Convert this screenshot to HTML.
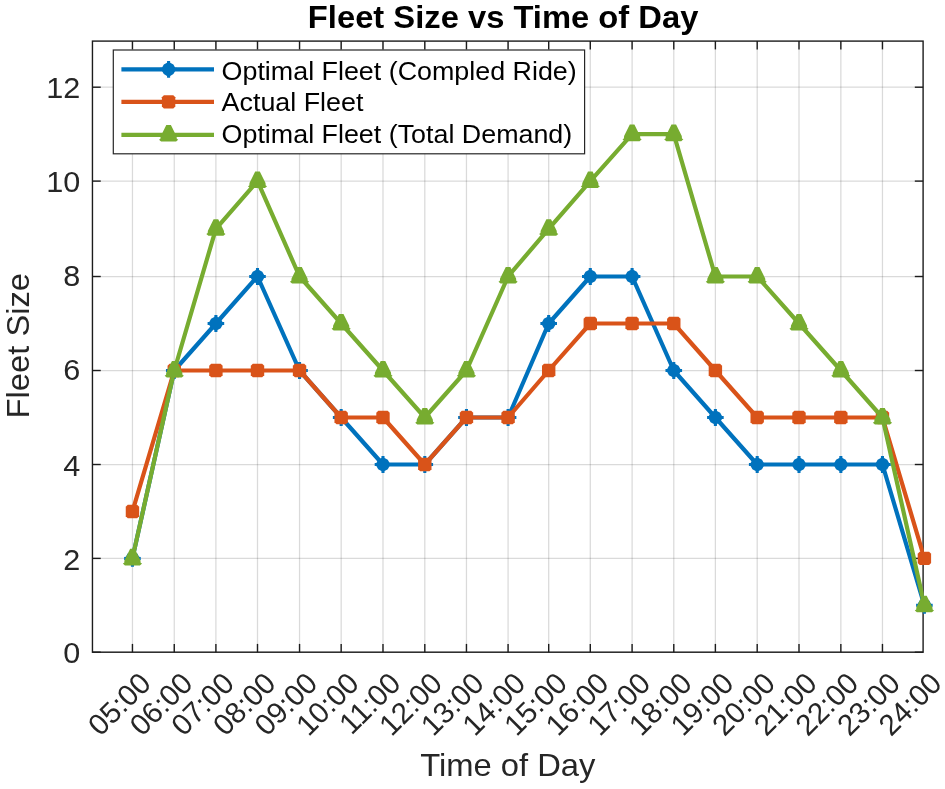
<!DOCTYPE html>
<html><head><meta charset="utf-8"><title>Fleet Size vs Time of Day</title>
<style>html,body{margin:0;padding:0;background:#fff}svg{display:block;will-change:transform}text{font-family:"Liberation Sans",sans-serif;fill:#262626}</style></head><body>
<svg width="945" height="789" viewBox="0 0 945 789">
<rect width="945" height="789" fill="#fff"/>
<defs><clipPath id="ax"><rect x="92.45" y="41.10" width="831.35" height="611.10"/></clipPath></defs>
<g stroke="#262626" stroke-opacity="0.17" stroke-width="1.25">
<line x1="132.45" y1="41.10" x2="132.45" y2="652.20"/>
<line x1="174.26" y1="41.10" x2="174.26" y2="652.20"/>
<line x1="215.90" y1="41.10" x2="215.90" y2="652.20"/>
<line x1="257.50" y1="41.10" x2="257.50" y2="652.20"/>
<line x1="299.55" y1="41.10" x2="299.55" y2="652.20"/>
<line x1="341.17" y1="41.10" x2="341.17" y2="652.20"/>
<line x1="382.99" y1="41.10" x2="382.99" y2="652.20"/>
<line x1="424.80" y1="41.10" x2="424.80" y2="652.20"/>
<line x1="466.46" y1="41.10" x2="466.46" y2="652.20"/>
<line x1="508.08" y1="41.10" x2="508.08" y2="652.20"/>
<line x1="548.69" y1="41.10" x2="548.69" y2="652.20"/>
<line x1="590.30" y1="41.10" x2="590.30" y2="652.20"/>
<line x1="632.10" y1="41.10" x2="632.10" y2="652.20"/>
<line x1="673.78" y1="41.10" x2="673.78" y2="652.20"/>
<line x1="715.39" y1="41.10" x2="715.39" y2="652.20"/>
<line x1="757.20" y1="41.10" x2="757.20" y2="652.20"/>
<line x1="799.00" y1="41.10" x2="799.00" y2="652.20"/>
<line x1="840.85" y1="41.10" x2="840.85" y2="652.20"/>
<line x1="882.46" y1="41.10" x2="882.46" y2="652.20"/>
<line x1="92.45" y1="652.20" x2="923.10" y2="652.20"/>
<line x1="92.45" y1="558.40" x2="923.10" y2="558.40"/>
<line x1="92.45" y1="464.50" x2="923.10" y2="464.50"/>
<line x1="92.45" y1="370.50" x2="923.10" y2="370.50"/>
<line x1="92.45" y1="276.50" x2="923.10" y2="276.50"/>
<line x1="92.45" y1="181.10" x2="923.10" y2="181.10"/>
<line x1="92.45" y1="87.20" x2="923.10" y2="87.20"/>
</g>
<g stroke="#1c1c1c" stroke-width="1.4" fill="none">
<rect x="92.45" y="41.10" width="830.65" height="611.10"/>
<line x1="132.45" y1="652.20" x2="132.45" y2="643.90"/>
<line x1="132.45" y1="41.10" x2="132.45" y2="49.40"/>
<line x1="174.26" y1="652.20" x2="174.26" y2="643.90"/>
<line x1="174.26" y1="41.10" x2="174.26" y2="49.40"/>
<line x1="215.90" y1="652.20" x2="215.90" y2="643.90"/>
<line x1="215.90" y1="41.10" x2="215.90" y2="49.40"/>
<line x1="257.50" y1="652.20" x2="257.50" y2="643.90"/>
<line x1="257.50" y1="41.10" x2="257.50" y2="49.40"/>
<line x1="299.55" y1="652.20" x2="299.55" y2="643.90"/>
<line x1="299.55" y1="41.10" x2="299.55" y2="49.40"/>
<line x1="341.17" y1="652.20" x2="341.17" y2="643.90"/>
<line x1="341.17" y1="41.10" x2="341.17" y2="49.40"/>
<line x1="382.99" y1="652.20" x2="382.99" y2="643.90"/>
<line x1="382.99" y1="41.10" x2="382.99" y2="49.40"/>
<line x1="424.80" y1="652.20" x2="424.80" y2="643.90"/>
<line x1="424.80" y1="41.10" x2="424.80" y2="49.40"/>
<line x1="466.46" y1="652.20" x2="466.46" y2="643.90"/>
<line x1="466.46" y1="41.10" x2="466.46" y2="49.40"/>
<line x1="508.08" y1="652.20" x2="508.08" y2="643.90"/>
<line x1="508.08" y1="41.10" x2="508.08" y2="49.40"/>
<line x1="548.69" y1="652.20" x2="548.69" y2="643.90"/>
<line x1="548.69" y1="41.10" x2="548.69" y2="49.40"/>
<line x1="590.30" y1="652.20" x2="590.30" y2="643.90"/>
<line x1="590.30" y1="41.10" x2="590.30" y2="49.40"/>
<line x1="632.10" y1="652.20" x2="632.10" y2="643.90"/>
<line x1="632.10" y1="41.10" x2="632.10" y2="49.40"/>
<line x1="673.78" y1="652.20" x2="673.78" y2="643.90"/>
<line x1="673.78" y1="41.10" x2="673.78" y2="49.40"/>
<line x1="715.39" y1="652.20" x2="715.39" y2="643.90"/>
<line x1="715.39" y1="41.10" x2="715.39" y2="49.40"/>
<line x1="757.20" y1="652.20" x2="757.20" y2="643.90"/>
<line x1="757.20" y1="41.10" x2="757.20" y2="49.40"/>
<line x1="799.00" y1="652.20" x2="799.00" y2="643.90"/>
<line x1="799.00" y1="41.10" x2="799.00" y2="49.40"/>
<line x1="840.85" y1="652.20" x2="840.85" y2="643.90"/>
<line x1="840.85" y1="41.10" x2="840.85" y2="49.40"/>
<line x1="882.46" y1="652.20" x2="882.46" y2="643.90"/>
<line x1="882.46" y1="41.10" x2="882.46" y2="49.40"/>
<line x1="92.45" y1="652.20" x2="100.75" y2="652.20"/>
<line x1="923.10" y1="652.20" x2="914.80" y2="652.20"/>
<line x1="92.45" y1="558.40" x2="100.75" y2="558.40"/>
<line x1="923.10" y1="558.40" x2="914.80" y2="558.40"/>
<line x1="92.45" y1="464.50" x2="100.75" y2="464.50"/>
<line x1="923.10" y1="464.50" x2="914.80" y2="464.50"/>
<line x1="92.45" y1="370.50" x2="100.75" y2="370.50"/>
<line x1="923.10" y1="370.50" x2="914.80" y2="370.50"/>
<line x1="92.45" y1="276.50" x2="100.75" y2="276.50"/>
<line x1="923.10" y1="276.50" x2="914.80" y2="276.50"/>
<line x1="92.45" y1="181.10" x2="100.75" y2="181.10"/>
<line x1="923.10" y1="181.10" x2="914.80" y2="181.10"/>
<line x1="92.45" y1="87.20" x2="100.75" y2="87.20"/>
<line x1="923.10" y1="87.20" x2="914.80" y2="87.20"/>
</g>
<g id="series">
<polyline points="132.45,558.40 174.26,370.50 215.90,323.50 257.50,276.50 299.55,370.50 341.17,417.50 382.99,464.50 424.80,464.50 466.46,417.50 508.08,417.50 548.69,323.50 590.30,276.50 632.10,276.50 673.78,370.50 715.39,417.50 757.20,464.50 799.00,464.50 840.85,464.50 882.46,464.50 924.40,605.30" fill="none" stroke="#0072BD" stroke-width="4.2" stroke-linejoin="round" clip-path="url(#ax)"/>
<polygon points="130.95,550.00 133.95,550.00 134.05,551.80 137.25,553.60 139.05,556.80 140.75,556.90 140.75,559.90 139.05,560.00 137.25,563.20 134.05,565.00 133.95,566.80 130.95,566.80 130.85,565.00 127.65,563.20 125.85,560.00 124.15,559.90 124.15,556.90 125.85,556.80 127.65,553.60 130.85,551.80" fill="#0072BD"/>
<polygon points="172.76,362.10 175.76,362.10 175.86,363.90 179.06,365.70 180.86,368.90 182.56,369.00 182.56,372.00 180.86,372.10 179.06,375.30 175.86,377.10 175.76,378.90 172.76,378.90 172.66,377.10 169.46,375.30 167.66,372.10 165.96,372.00 165.96,369.00 167.66,368.90 169.46,365.70 172.66,363.90" fill="#0072BD"/>
<polygon points="214.40,315.10 217.40,315.10 217.50,316.90 220.70,318.70 222.50,321.90 224.20,322.00 224.20,325.00 222.50,325.10 220.70,328.30 217.50,330.10 217.40,331.90 214.40,331.90 214.30,330.10 211.10,328.30 209.30,325.10 207.60,325.00 207.60,322.00 209.30,321.90 211.10,318.70 214.30,316.90" fill="#0072BD"/>
<polygon points="256.00,268.10 259.00,268.10 259.10,269.90 262.30,271.70 264.10,274.90 265.80,275.00 265.80,278.00 264.10,278.10 262.30,281.30 259.10,283.10 259.00,284.90 256.00,284.90 255.90,283.10 252.70,281.30 250.90,278.10 249.20,278.00 249.20,275.00 250.90,274.90 252.70,271.70 255.90,269.90" fill="#0072BD"/>
<polygon points="298.05,362.10 301.05,362.10 301.15,363.90 304.35,365.70 306.15,368.90 307.85,369.00 307.85,372.00 306.15,372.10 304.35,375.30 301.15,377.10 301.05,378.90 298.05,378.90 297.95,377.10 294.75,375.30 292.95,372.10 291.25,372.00 291.25,369.00 292.95,368.90 294.75,365.70 297.95,363.90" fill="#0072BD"/>
<polygon points="339.67,409.10 342.67,409.10 342.77,410.90 345.97,412.70 347.77,415.90 349.47,416.00 349.47,419.00 347.77,419.10 345.97,422.30 342.77,424.10 342.67,425.90 339.67,425.90 339.57,424.10 336.37,422.30 334.57,419.10 332.87,419.00 332.87,416.00 334.57,415.90 336.37,412.70 339.57,410.90" fill="#0072BD"/>
<polygon points="381.49,456.10 384.49,456.10 384.59,457.90 387.79,459.70 389.59,462.90 391.29,463.00 391.29,466.00 389.59,466.10 387.79,469.30 384.59,471.10 384.49,472.90 381.49,472.90 381.39,471.10 378.19,469.30 376.39,466.10 374.69,466.00 374.69,463.00 376.39,462.90 378.19,459.70 381.39,457.90" fill="#0072BD"/>
<polygon points="423.30,456.10 426.30,456.10 426.40,457.90 429.60,459.70 431.40,462.90 433.10,463.00 433.10,466.00 431.40,466.10 429.60,469.30 426.40,471.10 426.30,472.90 423.30,472.90 423.20,471.10 420.00,469.30 418.20,466.10 416.50,466.00 416.50,463.00 418.20,462.90 420.00,459.70 423.20,457.90" fill="#0072BD"/>
<polygon points="464.96,409.10 467.96,409.10 468.06,410.90 471.26,412.70 473.06,415.90 474.76,416.00 474.76,419.00 473.06,419.10 471.26,422.30 468.06,424.10 467.96,425.90 464.96,425.90 464.86,424.10 461.66,422.30 459.86,419.10 458.16,419.00 458.16,416.00 459.86,415.90 461.66,412.70 464.86,410.90" fill="#0072BD"/>
<polygon points="506.58,409.10 509.58,409.10 509.68,410.90 512.88,412.70 514.68,415.90 516.38,416.00 516.38,419.00 514.68,419.10 512.88,422.30 509.68,424.10 509.58,425.90 506.58,425.90 506.48,424.10 503.28,422.30 501.48,419.10 499.78,419.00 499.78,416.00 501.48,415.90 503.28,412.70 506.48,410.90" fill="#0072BD"/>
<polygon points="547.19,315.10 550.19,315.10 550.29,316.90 553.49,318.70 555.29,321.90 556.99,322.00 556.99,325.00 555.29,325.10 553.49,328.30 550.29,330.10 550.19,331.90 547.19,331.90 547.09,330.10 543.89,328.30 542.09,325.10 540.39,325.00 540.39,322.00 542.09,321.90 543.89,318.70 547.09,316.90" fill="#0072BD"/>
<polygon points="588.80,268.10 591.80,268.10 591.90,269.90 595.10,271.70 596.90,274.90 598.60,275.00 598.60,278.00 596.90,278.10 595.10,281.30 591.90,283.10 591.80,284.90 588.80,284.90 588.70,283.10 585.50,281.30 583.70,278.10 582.00,278.00 582.00,275.00 583.70,274.90 585.50,271.70 588.70,269.90" fill="#0072BD"/>
<polygon points="630.60,268.10 633.60,268.10 633.70,269.90 636.90,271.70 638.70,274.90 640.40,275.00 640.40,278.00 638.70,278.10 636.90,281.30 633.70,283.10 633.60,284.90 630.60,284.90 630.50,283.10 627.30,281.30 625.50,278.10 623.80,278.00 623.80,275.00 625.50,274.90 627.30,271.70 630.50,269.90" fill="#0072BD"/>
<polygon points="672.28,362.10 675.28,362.10 675.38,363.90 678.58,365.70 680.38,368.90 682.08,369.00 682.08,372.00 680.38,372.10 678.58,375.30 675.38,377.10 675.28,378.90 672.28,378.90 672.18,377.10 668.98,375.30 667.18,372.10 665.48,372.00 665.48,369.00 667.18,368.90 668.98,365.70 672.18,363.90" fill="#0072BD"/>
<polygon points="713.89,409.10 716.89,409.10 716.99,410.90 720.19,412.70 721.99,415.90 723.69,416.00 723.69,419.00 721.99,419.10 720.19,422.30 716.99,424.10 716.89,425.90 713.89,425.90 713.79,424.10 710.59,422.30 708.79,419.10 707.09,419.00 707.09,416.00 708.79,415.90 710.59,412.70 713.79,410.90" fill="#0072BD"/>
<polygon points="755.70,456.10 758.70,456.10 758.80,457.90 762.00,459.70 763.80,462.90 765.50,463.00 765.50,466.00 763.80,466.10 762.00,469.30 758.80,471.10 758.70,472.90 755.70,472.90 755.60,471.10 752.40,469.30 750.60,466.10 748.90,466.00 748.90,463.00 750.60,462.90 752.40,459.70 755.60,457.90" fill="#0072BD"/>
<polygon points="797.50,456.10 800.50,456.10 800.60,457.90 803.80,459.70 805.60,462.90 807.30,463.00 807.30,466.00 805.60,466.10 803.80,469.30 800.60,471.10 800.50,472.90 797.50,472.90 797.40,471.10 794.20,469.30 792.40,466.10 790.70,466.00 790.70,463.00 792.40,462.90 794.20,459.70 797.40,457.90" fill="#0072BD"/>
<polygon points="839.35,456.10 842.35,456.10 842.45,457.90 845.65,459.70 847.45,462.90 849.15,463.00 849.15,466.00 847.45,466.10 845.65,469.30 842.45,471.10 842.35,472.90 839.35,472.90 839.25,471.10 836.05,469.30 834.25,466.10 832.55,466.00 832.55,463.00 834.25,462.90 836.05,459.70 839.25,457.90" fill="#0072BD"/>
<polygon points="880.96,456.10 883.96,456.10 884.06,457.90 887.26,459.70 889.06,462.90 890.76,463.00 890.76,466.00 889.06,466.10 887.26,469.30 884.06,471.10 883.96,472.90 880.96,472.90 880.86,471.10 877.66,469.30 875.86,466.10 874.16,466.00 874.16,463.00 875.86,462.90 877.66,459.70 880.86,457.90" fill="#0072BD"/>
<polygon points="922.90,596.90 925.90,596.90 926.00,598.70 929.20,600.50 931.00,603.70 932.70,603.80 932.70,606.80 931.00,606.90 929.20,610.10 926.00,611.90 925.90,613.70 922.90,613.70 922.80,611.90 919.60,610.10 917.80,606.90 916.10,606.80 916.10,603.80 917.80,603.70 919.60,600.50 922.80,598.70" fill="#0072BD"/>
<polyline points="132.45,511.45 174.26,370.50 215.90,370.50 257.50,370.50 299.55,370.50 341.17,417.50 382.99,417.50 424.80,464.50 466.46,417.50 508.08,417.50 548.69,370.50 590.30,323.50 632.10,323.50 673.78,323.50 715.39,370.50 757.20,417.50 799.00,417.50 840.85,417.50 882.46,417.50 924.40,558.40" fill="none" stroke="#D95319" stroke-width="4.2" stroke-linejoin="round" clip-path="url(#ax)"/>
<polygon points="127.75,504.75 137.15,504.75 139.15,506.75 139.15,516.15 137.15,518.15 127.75,518.15 125.75,516.15 125.75,506.75" fill="#D95319"/>
<polygon points="169.56,363.80 178.96,363.80 180.96,365.80 180.96,375.20 178.96,377.20 169.56,377.20 167.56,375.20 167.56,365.80" fill="#D95319"/>
<polygon points="211.20,363.80 220.60,363.80 222.60,365.80 222.60,375.20 220.60,377.20 211.20,377.20 209.20,375.20 209.20,365.80" fill="#D95319"/>
<polygon points="252.80,363.80 262.20,363.80 264.20,365.80 264.20,375.20 262.20,377.20 252.80,377.20 250.80,375.20 250.80,365.80" fill="#D95319"/>
<polygon points="294.85,363.80 304.25,363.80 306.25,365.80 306.25,375.20 304.25,377.20 294.85,377.20 292.85,375.20 292.85,365.80" fill="#D95319"/>
<polygon points="336.47,410.80 345.87,410.80 347.87,412.80 347.87,422.20 345.87,424.20 336.47,424.20 334.47,422.20 334.47,412.80" fill="#D95319"/>
<polygon points="378.29,410.80 387.69,410.80 389.69,412.80 389.69,422.20 387.69,424.20 378.29,424.20 376.29,422.20 376.29,412.80" fill="#D95319"/>
<polygon points="420.10,457.80 429.50,457.80 431.50,459.80 431.50,469.20 429.50,471.20 420.10,471.20 418.10,469.20 418.10,459.80" fill="#D95319"/>
<polygon points="461.76,410.80 471.16,410.80 473.16,412.80 473.16,422.20 471.16,424.20 461.76,424.20 459.76,422.20 459.76,412.80" fill="#D95319"/>
<polygon points="503.38,410.80 512.78,410.80 514.78,412.80 514.78,422.20 512.78,424.20 503.38,424.20 501.38,422.20 501.38,412.80" fill="#D95319"/>
<polygon points="543.99,363.80 553.39,363.80 555.39,365.80 555.39,375.20 553.39,377.20 543.99,377.20 541.99,375.20 541.99,365.80" fill="#D95319"/>
<polygon points="585.60,316.80 595.00,316.80 597.00,318.80 597.00,328.20 595.00,330.20 585.60,330.20 583.60,328.20 583.60,318.80" fill="#D95319"/>
<polygon points="627.40,316.80 636.80,316.80 638.80,318.80 638.80,328.20 636.80,330.20 627.40,330.20 625.40,328.20 625.40,318.80" fill="#D95319"/>
<polygon points="669.08,316.80 678.48,316.80 680.48,318.80 680.48,328.20 678.48,330.20 669.08,330.20 667.08,328.20 667.08,318.80" fill="#D95319"/>
<polygon points="710.69,363.80 720.09,363.80 722.09,365.80 722.09,375.20 720.09,377.20 710.69,377.20 708.69,375.20 708.69,365.80" fill="#D95319"/>
<polygon points="752.50,410.80 761.90,410.80 763.90,412.80 763.90,422.20 761.90,424.20 752.50,424.20 750.50,422.20 750.50,412.80" fill="#D95319"/>
<polygon points="794.30,410.80 803.70,410.80 805.70,412.80 805.70,422.20 803.70,424.20 794.30,424.20 792.30,422.20 792.30,412.80" fill="#D95319"/>
<polygon points="836.15,410.80 845.55,410.80 847.55,412.80 847.55,422.20 845.55,424.20 836.15,424.20 834.15,422.20 834.15,412.80" fill="#D95319"/>
<polygon points="877.76,410.80 887.16,410.80 889.16,412.80 889.16,422.20 887.16,424.20 877.76,424.20 875.76,422.20 875.76,412.80" fill="#D95319"/>
<polygon points="919.70,551.70 929.10,551.70 931.10,553.70 931.10,563.10 929.10,565.10 919.70,565.10 917.70,563.10 917.70,553.70" fill="#D95319"/>
<polyline points="132.45,558.40 174.26,370.50 215.90,228.80 257.50,181.10 299.55,276.50 341.17,323.50 382.99,370.50 424.80,417.50 466.46,370.50 508.08,276.50 548.69,228.80 590.30,181.10 632.10,134.15 673.78,134.15 715.39,276.50 757.20,276.50 799.00,323.50 840.85,370.50 882.46,417.50 924.40,605.30" fill="none" stroke="#77AC30" stroke-width="4.2" stroke-linejoin="round" clip-path="url(#ax)"/>
<polygon points="130.15,548.80 134.75,548.80 140.45,560.30 140.65,562.70 142.05,563.60 139.95,565.40 124.95,565.40 122.85,563.60 124.25,562.70 124.45,560.30" fill="#77AC30"/>
<polygon points="171.96,360.90 176.56,360.90 182.26,372.40 182.46,374.80 183.86,375.70 181.76,377.50 166.76,377.50 164.66,375.70 166.06,374.80 166.26,372.40" fill="#77AC30"/>
<polygon points="213.60,219.20 218.20,219.20 223.90,230.70 224.10,233.10 225.50,234.00 223.40,235.80 208.40,235.80 206.30,234.00 207.70,233.10 207.90,230.70" fill="#77AC30"/>
<polygon points="255.20,171.50 259.80,171.50 265.50,183.00 265.70,185.40 267.10,186.30 265.00,188.10 250.00,188.10 247.90,186.30 249.30,185.40 249.50,183.00" fill="#77AC30"/>
<polygon points="297.25,266.90 301.85,266.90 307.55,278.40 307.75,280.80 309.15,281.70 307.05,283.50 292.05,283.50 289.95,281.70 291.35,280.80 291.55,278.40" fill="#77AC30"/>
<polygon points="338.87,313.90 343.47,313.90 349.17,325.40 349.37,327.80 350.77,328.70 348.67,330.50 333.67,330.50 331.57,328.70 332.97,327.80 333.17,325.40" fill="#77AC30"/>
<polygon points="380.69,360.90 385.29,360.90 390.99,372.40 391.19,374.80 392.59,375.70 390.49,377.50 375.49,377.50 373.39,375.70 374.79,374.80 374.99,372.40" fill="#77AC30"/>
<polygon points="422.50,407.90 427.10,407.90 432.80,419.40 433.00,421.80 434.40,422.70 432.30,424.50 417.30,424.50 415.20,422.70 416.60,421.80 416.80,419.40" fill="#77AC30"/>
<polygon points="464.16,360.90 468.76,360.90 474.46,372.40 474.66,374.80 476.06,375.70 473.96,377.50 458.96,377.50 456.86,375.70 458.26,374.80 458.46,372.40" fill="#77AC30"/>
<polygon points="505.78,266.90 510.38,266.90 516.08,278.40 516.28,280.80 517.68,281.70 515.58,283.50 500.58,283.50 498.48,281.70 499.88,280.80 500.08,278.40" fill="#77AC30"/>
<polygon points="546.39,219.20 550.99,219.20 556.69,230.70 556.89,233.10 558.29,234.00 556.19,235.80 541.19,235.80 539.09,234.00 540.49,233.10 540.69,230.70" fill="#77AC30"/>
<polygon points="588.00,171.50 592.60,171.50 598.30,183.00 598.50,185.40 599.90,186.30 597.80,188.10 582.80,188.10 580.70,186.30 582.10,185.40 582.30,183.00" fill="#77AC30"/>
<polygon points="629.80,124.55 634.40,124.55 640.10,136.05 640.30,138.45 641.70,139.35 639.60,141.15 624.60,141.15 622.50,139.35 623.90,138.45 624.10,136.05" fill="#77AC30"/>
<polygon points="671.48,124.55 676.08,124.55 681.78,136.05 681.98,138.45 683.38,139.35 681.28,141.15 666.28,141.15 664.18,139.35 665.58,138.45 665.78,136.05" fill="#77AC30"/>
<polygon points="713.09,266.90 717.69,266.90 723.39,278.40 723.59,280.80 724.99,281.70 722.89,283.50 707.89,283.50 705.79,281.70 707.19,280.80 707.39,278.40" fill="#77AC30"/>
<polygon points="754.90,266.90 759.50,266.90 765.20,278.40 765.40,280.80 766.80,281.70 764.70,283.50 749.70,283.50 747.60,281.70 749.00,280.80 749.20,278.40" fill="#77AC30"/>
<polygon points="796.70,313.90 801.30,313.90 807.00,325.40 807.20,327.80 808.60,328.70 806.50,330.50 791.50,330.50 789.40,328.70 790.80,327.80 791.00,325.40" fill="#77AC30"/>
<polygon points="838.55,360.90 843.15,360.90 848.85,372.40 849.05,374.80 850.45,375.70 848.35,377.50 833.35,377.50 831.25,375.70 832.65,374.80 832.85,372.40" fill="#77AC30"/>
<polygon points="880.16,407.90 884.76,407.90 890.46,419.40 890.66,421.80 892.06,422.70 889.96,424.50 874.96,424.50 872.86,422.70 874.26,421.80 874.46,419.40" fill="#77AC30"/>
<polygon points="922.10,595.70 926.70,595.70 932.40,607.20 932.60,609.60 934.00,610.50 931.90,612.30 916.90,612.30 914.80,610.50 916.20,609.60 916.40,607.20" fill="#77AC30"/>
</g>
<g font-size="29.6" text-anchor="end">
<text transform="translate(80.30,663.20) scale(1.045,1)" font-size="29.30" text-anchor="end">0</text>
<text transform="translate(80.30,569.50) scale(1.045,1)" font-size="29.30" text-anchor="end">2</text>
<text transform="translate(80.30,475.50) scale(1.045,1)" font-size="29.30" text-anchor="end">4</text>
<text transform="translate(80.30,380.10) scale(1.045,1)" font-size="29.30" text-anchor="end">6</text>
<text transform="translate(80.30,286.40) scale(1.045,1)" font-size="29.30" text-anchor="end">8</text>
<text transform="translate(80.30,192.10) scale(1.045,1)" font-size="29.30" text-anchor="end">10</text>
<text transform="translate(80.30,98.30) scale(1.045,1)" font-size="29.30" text-anchor="end">12</text>
</g>
<g font-size="29.6" text-anchor="end">
<text transform="translate(152.65,685.00) rotate(-45)">05:00</text>
<text transform="translate(194.27,685.00) rotate(-45)">06:00</text>
<text transform="translate(235.89,685.00) rotate(-45)">07:00</text>
<text transform="translate(277.51,685.00) rotate(-45)">08:00</text>
<text transform="translate(319.13,685.00) rotate(-45)">09:00</text>
<text transform="translate(360.75,685.00) rotate(-45)">10:00</text>
<text transform="translate(402.37,685.00) rotate(-45)">11:00</text>
<text transform="translate(443.99,685.00) rotate(-45)">12:00</text>
<text transform="translate(485.61,685.00) rotate(-45)">13:00</text>
<text transform="translate(527.23,685.00) rotate(-45)">14:00</text>
<text transform="translate(568.85,685.00) rotate(-45)">15:00</text>
<text transform="translate(610.47,685.00) rotate(-45)">16:00</text>
<text transform="translate(652.09,685.00) rotate(-45)">17:00</text>
<text transform="translate(693.71,685.00) rotate(-45)">18:00</text>
<text transform="translate(735.33,685.00) rotate(-45)">19:00</text>
<text transform="translate(776.95,685.00) rotate(-45)">20:00</text>
<text transform="translate(818.57,685.00) rotate(-45)">21:00</text>
<text transform="translate(860.19,685.00) rotate(-45)">22:00</text>
<text transform="translate(901.81,685.00) rotate(-45)">23:00</text>
<text transform="translate(943.43,685.00) rotate(-45)">24:00</text>
</g>
<text transform="translate(507.80,776.00) scale(1.052,1)" font-size="31.13" text-anchor="middle">Time of Day</text>
<text transform="translate(28.60,345.70) rotate(-90) scale(1.051,1)" font-size="31.13" text-anchor="middle">Fleet Size</text>
<text transform="translate(503.10,27.80) scale(1.055,1)" font-size="31.04" text-anchor="middle" font-weight="bold" style="fill:#000">Fleet Size vs Time of Day</text>
<rect x="113.3" y="50" width="471.3" height="103.8" fill="#fff" stroke="#262626" stroke-width="1.2"/>
<line x1="121.4" y1="69.30" x2="214" y2="69.30" stroke="#0072BD" stroke-width="4.2"/>
<line x1="121.4" y1="101.90" x2="214" y2="101.90" stroke="#D95319" stroke-width="4.2"/>
<line x1="121.4" y1="134.80" x2="214" y2="134.80" stroke="#77AC30" stroke-width="4.2"/>
<polygon points="167.10,60.90 170.10,60.90 170.20,62.70 173.40,64.50 175.20,67.70 176.90,67.80 176.90,70.80 175.20,70.90 173.40,74.10 170.20,75.90 170.10,77.70 167.10,77.70 167.00,75.90 163.80,74.10 162.00,70.90 160.30,70.80 160.30,67.80 162.00,67.70 163.80,64.50 167.00,62.70" fill="#0072BD"/>
<polygon points="163.90,95.20 173.30,95.20 175.30,97.20 175.30,106.60 173.30,108.60 163.90,108.60 161.90,106.60 161.90,97.20" fill="#D95319"/>
<polygon points="166.30,124.90 170.90,124.90 176.60,136.40 176.80,138.80 178.20,139.70 176.10,141.50 161.10,141.50 159.00,139.70 160.40,138.80 160.60,136.40" fill="#77AC30"/>
<g font-size="26.9" style="fill:#000">
<text transform="translate(221.60,80.30) scale(1.042,1)" font-size="25.78" text-anchor="start" style="fill:#000">Optimal Fleet (Compled Ride)</text>
<text transform="translate(221.60,111.30) scale(1.042,1)" font-size="25.78" text-anchor="start" style="fill:#000">Actual Fleet</text>
<text transform="translate(221.60,143.30) scale(1.042,1)" font-size="25.78" text-anchor="start" style="fill:#000">Optimal Fleet (Total Demand)</text>
</g>
</svg></body></html>
